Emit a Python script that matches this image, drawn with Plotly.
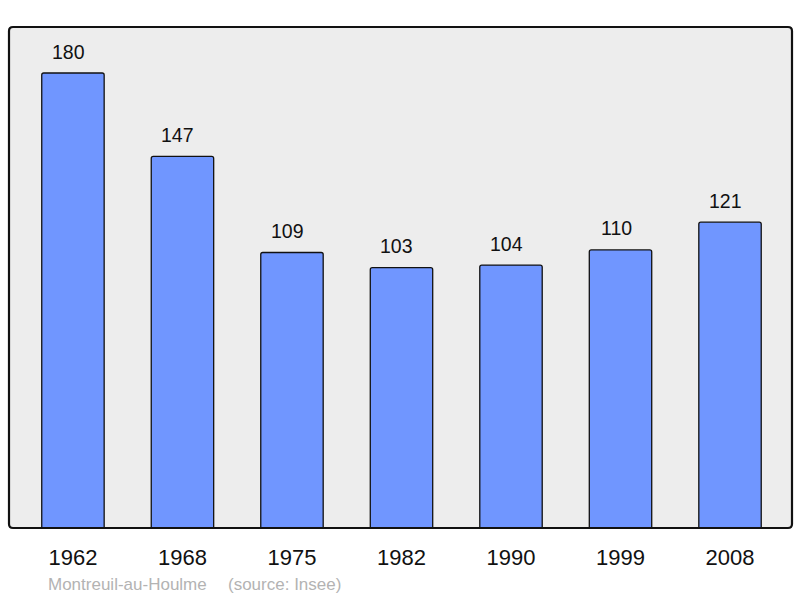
import plotly.graph_objects as go

years = ["1962", "1968", "1975", "1982", "1990", "1999", "2008"]
population = [180, 147, 109, 103, 104, 110, 121]
commune = "Montreuil-au-Houlme"
source = "(source: Insee)"

W, H = 800, 598
L, R, T, B = 9, 8, 27, 70
pw, ph = W - L - R, H - T - B
FONT = "Liberation Sans, Arial, sans-serif"

fig = go.Figure()
fig.add_trace(go.Bar(
    x=years, y=population, width=0.57,
    marker=dict(color="#7096ff", line=dict(color="#111111", width=1.3), cornerradius=2),
    hoverinfo="x+y",
))

for i, v in enumerate(population):
    fig.add_annotation(x=i, y=v, text=str(v), showarrow=False, yshift=21.5, xshift=-4.5,
                       font=dict(size=19.5, color="#111111", family=FONT))

# rounded border
rx, ry = 4 / pw, 4 / ph
path = (f"M {rx},0 L {1-rx},0 Q 1,0 1,{ry} L 1,{1-ry} Q 1,1 {1-rx},1 "
        f"L {rx},1 Q 0,1 0,{1-ry} L 0,{ry} Q 0,0 {rx},0 Z")
fig.add_shape(type="path", path=path, xref="paper", yref="paper",
              line=dict(color="#111111", width=2.2), layer="above")

fig.add_annotation(text=commune, xref="paper", yref="paper",
                   x=(46 - L) / pw, y=(T + ph - 584) / ph, xanchor="left", yanchor="middle",
                   showarrow=False, font=dict(size=17, color="#b3b3b3", family=FONT))
fig.add_annotation(text=source, xref="paper", yref="paper",
                   x=(226 - L) / pw, y=(T + ph - 584) / ph, xanchor="left", yanchor="middle",
                   showarrow=False, font=dict(size=17, color="#b3b3b3", family=FONT))

fig.update_layout(
    width=W, height=H,
    margin=dict(l=L, r=R, t=T, b=B, pad=0, autoexpand=False),
    paper_bgcolor="white", plot_bgcolor="#ededed",
    showlegend=False,
    font=dict(family=FONT),
    xaxis=dict(type="category", range=[-0.584, 6.566], showgrid=False, zeroline=False,
               showline=False, ticks="", ticklabelstandoff=14,
               tickfont=dict(size=22, color="#111111")),
    yaxis=dict(range=[0, 198.2], showgrid=False, zeroline=False, showline=False,
               showticklabels=False, ticks=""),
)

fig.write_html("out.html", config={"displayModeBar": False},
               post_script="document.body.style.margin='0';document.body.style.padding='0';")
